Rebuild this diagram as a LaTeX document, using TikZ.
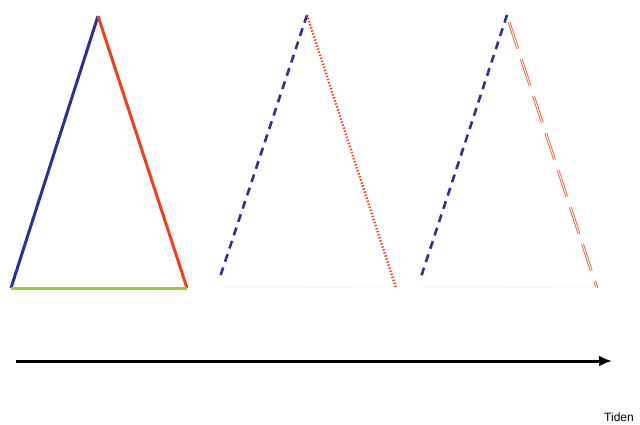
\documentclass[tikz,border=0pt]{standalone}
\usepackage{fontspec}
\setmainfont{Liberation Sans}
\usetikzlibrary{arrows.meta}
\begin{document}
\begin{tikzpicture}[x=1pt,y=-1pt,
  bluecol/.style={draw={rgb,255:red,46;green,49;blue,146}},
  side/.style={line width=3pt},
  bluedash/.style={bluecol,line width=2.6pt,dash pattern=on 8pt off 6pt},
  reddot/.style={draw={rgb,255:red,240;green,64;blue,32},line width=2.4pt,dash pattern=on 1.4pt off 1.8pt},
  reddouble/.style={draw={rgb,255:red,232;green,98;blue,58},line width=0.9pt,double=white,double distance=0.9pt,dash pattern=on 28pt off 11pt},
  timearrow/.style={line width=3pt,-{Latex[length=13pt,width=11pt]}}]
\useasboundingbox (0,0) rectangle (640,424);
\clip (0,0) rectangle (640,424);
\fill[white] (0,0) rectangle (640,424);
% triangle 1
\coordinate (a1) at (98,16);
\coordinate (l1) at (11,288);
\coordinate (r1) at (187,288);
\draw[bluecol,side] (l1) -- (a1);
\draw[side,draw={rgb,255:red,240;green,64;blue,32}] (a1) -- (r1);
\draw[side,draw={rgb,255:red,153;green,204;blue,51}] (l1) -- (r1);
% triangle 2
\coordinate (a2) at (307,15);
\coordinate (l2) at (219,280);
\coordinate (r2) at (396,288);
\coordinate (b2) at (220,287);
\draw[bluedash] (a2) -- (l2);
\draw[reddot] (a2) -- (r2);
\draw[gray!6,line width=1pt] (b2) -- (r2);
% triangle 3
\coordinate (a3) at (507,15);
\coordinate (l3) at (420,280);
\coordinate (s3) at (509,22);
\coordinate (r3) at (597,288);
\coordinate (b3) at (421,287);
\draw[bluedash] (a3) -- (l3);
\draw[reddouble] (s3) -- (r3);
\draw[gray!6,line width=1pt] (b3) -- (r3);
% time arrow
\coordinate (t0) at (16,361);
\coordinate (t1) at (612,361);
\draw[timearrow] (t0) -- (t1);
\node[anchor=base west,inner sep=0pt,font=\fontsize{12}{14}\selectfont] (tiden) at (604,421.5) {Tiden};
\end{tikzpicture}
\end{document}
